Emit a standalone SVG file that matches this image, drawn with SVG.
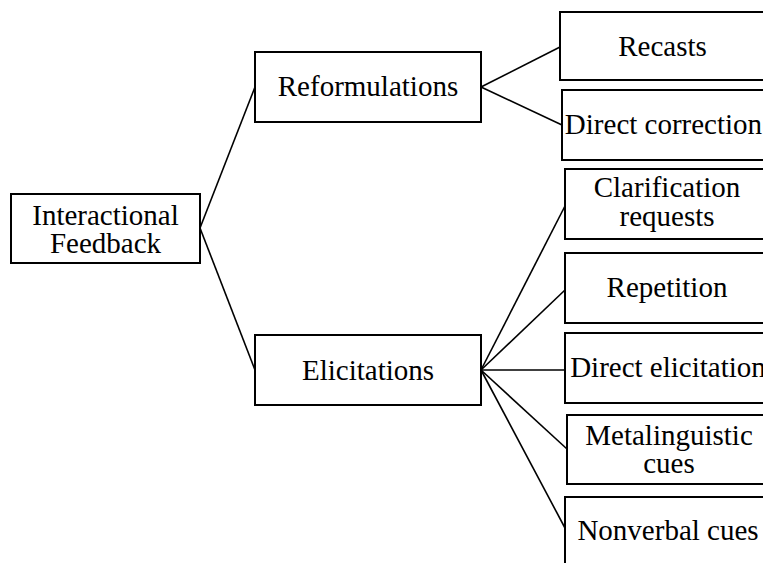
<svg xmlns="http://www.w3.org/2000/svg" width="763" height="563" viewBox="0 0 763 563">
<style>
.box{fill:#fff;stroke:#000;stroke-width:2}
.t{font-family:"Liberation Serif","Times New Roman",serif;font-size:29px;fill:#000;text-anchor:middle}
.c line{stroke:#000;stroke-width:1.6}
</style>
<rect width="763" height="563" fill="#fff"/>
<g class="c" id="connectors">
<line x1="200" y1="228" x2="255" y2="87"/>
<line x1="200" y1="228" x2="255" y2="370"/>
<line x1="481" y1="87" x2="560" y2="47"/>
<line x1="481" y1="87" x2="562" y2="125"/>
<line x1="481" y1="370" x2="565" y2="206"/>
<line x1="481" y1="370" x2="565" y2="290"/>
<line x1="481" y1="370" x2="565" y2="370"/>
<line x1="481" y1="370" x2="567" y2="449"/>
<line x1="481" y1="370" x2="565" y2="528"/>
</g>
<g id="interactional-feedback">
<rect class="box" x="11" y="194" width="189" height="69"/>
<text class="t" x="105.5" y="225">Interactional</text>
<text class="t" x="105.5" y="253">Feedback</text>
</g>
<g id="reformulations">
<rect class="box" x="255" y="52" width="226" height="70"/>
<text class="t" x="368" y="96">Reformulations</text>
</g>
<g id="elicitations">
<rect class="box" x="255" y="335" width="226" height="70"/>
<text class="t" x="368" y="380">Elicitations</text>
</g>
<g id="recasts">
<rect class="box" x="560" y="12" width="210" height="68"/>
<text class="t" x="662.5" y="56">Recasts</text>
</g>
<g id="direct-correction">
<rect class="box" x="562" y="90" width="210" height="70"/>
<text class="t" x="663.5" y="134">Direct correction</text>
</g>
<g id="clarification-requests">
<rect class="box" x="565" y="169" width="210" height="70"/>
<text class="t" x="667" y="197">Clarification</text>
<text class="t" x="667" y="226">requests</text>
</g>
<g id="repetition">
<rect class="box" x="565" y="253" width="210" height="70"/>
<text class="t" x="667" y="297">Repetition</text>
</g>
<g id="direct-elicitation">
<rect class="box" x="565" y="333" width="210" height="70"/>
<text class="t" x="668" y="377">Direct elicitation</text>
</g>
<g id="metalinguistic-cues">
<rect class="box" x="567" y="415" width="210" height="69"/>
<text class="t" x="669" y="445">Metalinguistic</text>
<text class="t" x="669" y="473">cues</text>
</g>
<g id="nonverbal-cues">
<rect class="box" x="565" y="497" width="210" height="70"/>
<text class="t" x="668" y="540">Nonverbal cues</text>
</g>
</svg>
